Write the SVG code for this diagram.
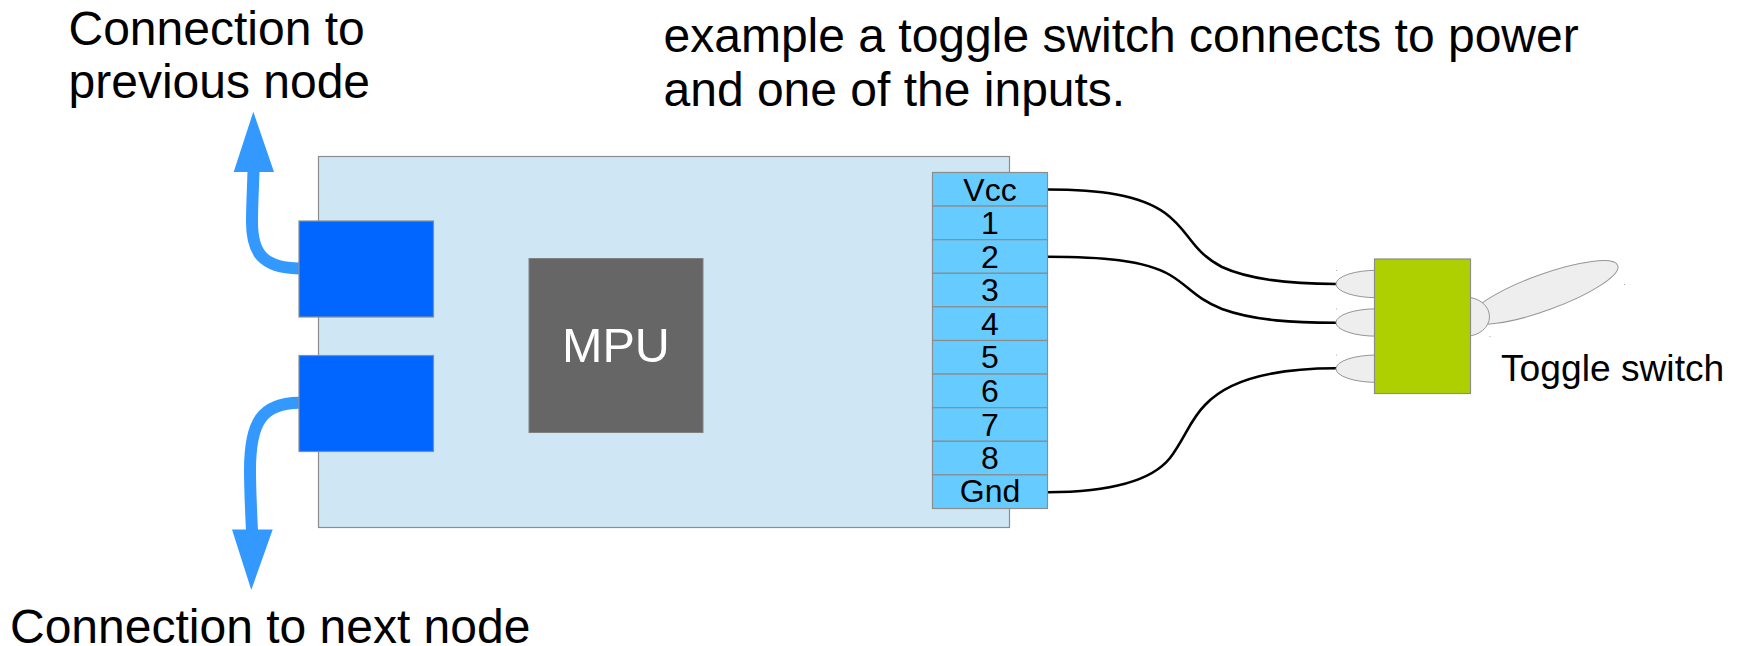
<svg xmlns="http://www.w3.org/2000/svg" width="1737" height="646" viewBox="0 0 1737 646">
<style>
text{font-family:"Liberation Sans",Arial,sans-serif;fill:#000}
.b{stroke:#8c8c8c;stroke-width:1.2}
.big{font-size:48px}
.pin{font-size:32px;text-anchor:middle}
.e{fill:#eeeeee;stroke:#969696;stroke-width:1}
.w{fill:none;stroke:#000;stroke-width:2.6}
.a{fill:none;stroke:#3399ff;stroke-width:12}
</style>
<rect width="1737" height="646" fill="#fff"/>
<g id="board"><rect class="b" x="318.500" y="156.500" width="691" height="371" fill="#cfe7f5"/></g>
<g id="connectors">
<path class="a" d="M299 268.500C262 268 252 252 252 222C252 205 253 190 253.500 170"/>
<path class="a" d="M299 402.700C262 403 250 422 250 470C250 490 251 510 252 531"/>
<polygon points="253.300,111.700 274,172 233.700,172" fill="#3399ff"/>
<polygon points="251.300,590 272.700,529.500 232,529.500" fill="#3399ff"/>
<path class="w" d="M1047.500 189.500C1100 189.500 1140 195 1165 213C1190 231 1190 250 1222 267C1250 280 1290 284 1336 284"/>
<path class="w" d="M1047.500 256.700C1100 256.700 1145 260 1170 275C1190 287 1195 298 1222 309C1255 321 1295 322.700 1336 322.700"/>
<path class="w" d="M1047.500 492.300C1105 492 1150 483 1170 458C1185 438 1190 420 1205 405C1230 378 1280 368.300 1336 368.300"/>
</g>
<g id="port-top"><rect class="b" x="299" y="221" width="134.500" height="96" fill="#0066ff"/></g>
<g id="port-bottom"><rect class="b" x="299" y="355.500" width="134.500" height="96" fill="#0066ff"/></g>
<g id="mpu"><rect x="529" y="258.500" width="174" height="174" fill="#666666" stroke="#808080"/><text x="616" y="362" font-size="48.500" text-anchor="middle" style="fill:#fff">MPU</text></g>
<g id="pins">
<rect class="b" x="932.500" y="172.500" width="115" height="33.600" fill="#66ccff"/><text class="pin" x="990" y="200.500">Vcc</text>
<rect class="b" x="932.500" y="206.100" width="115" height="33.600" fill="#66ccff"/><text class="pin" x="990" y="233.500">1</text>
<rect class="b" x="932.500" y="239.700" width="115" height="33.600" fill="#66ccff"/><text class="pin" x="990" y="267.500">2</text>
<rect class="b" x="932.500" y="273.300" width="115" height="33.600" fill="#66ccff"/><text class="pin" x="990" y="300.500">3</text>
<rect class="b" x="932.500" y="306.900" width="115" height="33.600" fill="#66ccff"/><text class="pin" x="990" y="334.500">4</text>
<rect class="b" x="932.500" y="340.500" width="115" height="33.600" fill="#66ccff"/><text class="pin" x="990" y="368">5</text>
<rect class="b" x="932.500" y="374.100" width="115" height="33.600" fill="#66ccff"/><text class="pin" x="990" y="401.500">6</text>
<rect class="b" x="932.500" y="407.700" width="115" height="33.600" fill="#66ccff"/><text class="pin" x="990" y="435.500">7</text>
<rect class="b" x="932.500" y="441.300" width="115" height="33.600" fill="#66ccff"/><text class="pin" x="990" y="469">8</text>
<rect class="b" x="932.500" y="474.900" width="115" height="33.600" fill="#66ccff"/><text class="pin" x="990" y="502">Gnd</text>
</g>
<g id="toggle-switch">
<ellipse class="e" cx="1544" cy="292.400" rx="78.500" ry="18" transform="rotate(-20 1544 292.400)"/>
<ellipse class="e" cx="1466" cy="316.700" rx="23.500" ry="19.500"/>
<ellipse class="e" cx="1377" cy="284" rx="41" ry="13.700"/>
<ellipse class="e" cx="1377" cy="322.500" rx="41" ry="13.700"/>
<ellipse class="e" cx="1377" cy="368.700" rx="41" ry="13.700"/>
<rect class="b" x="1374.500" y="259" width="96" height="134.500" fill="#aed000"/>
<path d="M1336.500 270v1M1336.500 308.500v1M1336.500 354.500v1M1624.500 284v1M1490 336v1" stroke="#aaa" fill="none"/>
</g>
<text class="big" x="68.500" y="44.500">Connection to</text>
<text class="big" x="68.500" y="98">previous node</text>
<text class="big" x="663.500" y="51.500">example a toggle switch connects to power</text>
<text class="big" x="663.500" y="106">and one of the inputs.</text>
<text class="big" x="10" y="642.500">Connection to next node</text>
<text x="1501" y="380.500" font-size="37.200">Toggle switch</text>
</svg>
